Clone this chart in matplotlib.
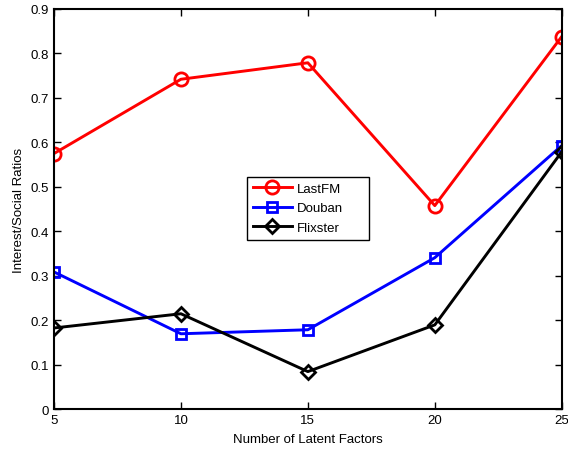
import matplotlib
matplotlib.use("Agg")
import matplotlib.pyplot as plt
from matplotlib.patches import Rectangle

plt.rcParams['font.family'] = ['Liberation Sans', 'DejaVu Sans']

factors = [5, 10, 15, 20, 25]
lastfm = [0.575, 0.742, 0.779, 0.458, 0.838]
douban = [0.309, 0.170, 0.179, 0.341, 0.593]
flixster = [0.183, 0.215, 0.085, 0.190, 0.579]

fig = plt.figure(figsize=(5.68, 4.52), dpi=100)
ax = fig.add_axes([0.095, 0.092, 0.894, 0.886])

common = dict(linewidth=2.1, markeredgewidth=2.0, markerfacecolor='none')
ax.plot(factors, lastfm, color='#ff0000', marker='o', markersize=9.5,
        label='LastFM', **common)
ax.plot(factors, douban, color='#0000ff', marker='s', markersize=7.5,
        label='Douban', **common)
ax.plot(factors, flixster, color='black', marker='D', markersize=7,
        label='Flixster', **common)

ax.set_xlim(5, 25)
ax.set_ylim(0, 0.9)
ax.set_xticks(factors)
ax.set_yticks([0, 0.1, 0.2, 0.3, 0.4, 0.5, 0.6, 0.7, 0.8, 0.9])
ax.set_yticklabels(['0', '0.1', '0.2', '0.3', '0.4', '0.5', '0.6', '0.7', '0.8', '0.9'])
ax.tick_params(direction='in', top=True, right=True, length=5, width=1,
               labelsize=9.5, pad=3.5)
for s in ax.spines.values():
    s.set_linewidth(1.5)

ax.set_xlabel('Number of Latent Factors', fontsize=9.5, labelpad=4.5)
ax.set_ylabel('Interest/Social Ratios', fontsize=9.5, labelpad=4)

# legend without its own frame; a wider box is drawn behind it
leg = ax.legend(loc='upper left', bbox_to_anchor=(0.380, 0.581), fontsize=9.5,
                frameon=False, borderaxespad=0, handlelength=2.95,
                borderpad=0.45, labelspacing=0.55, handletextpad=0.4)
leg.set_zorder(6)

fig.canvas.draw()
bb = leg.get_window_extent().transformed(ax.transAxes.inverted())
extra = 20 / ax.get_window_extent().width
box = Rectangle((bb.x0, bb.y0), bb.width + extra, bb.height,
                transform=ax.transAxes, facecolor='white', edgecolor='black',
                linewidth=1.0, zorder=5)
ax.add_patch(box)

fig.savefig('out.png', dpi=100)
